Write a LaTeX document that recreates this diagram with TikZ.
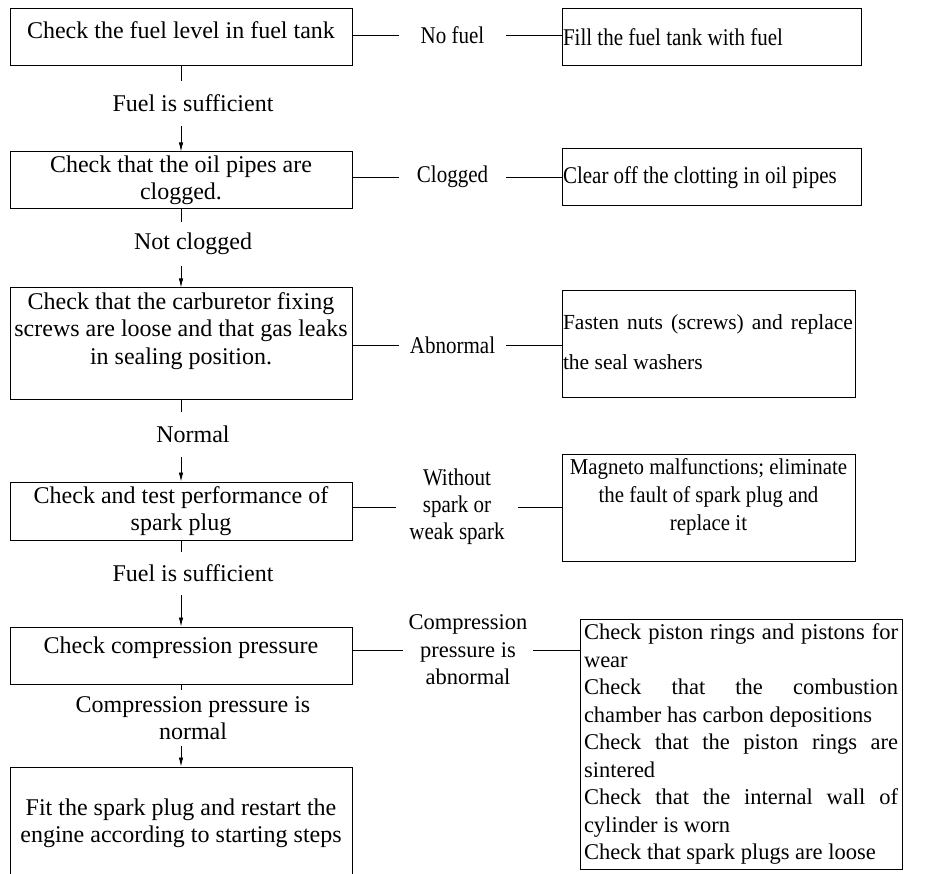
\documentclass[tikz,border=0pt]{standalone}
\usepackage{fontspec}
\setmainfont{Liberation Serif}
\newfontfamily\cnd[FakeStretch=0.875]{Liberation Serif}
\newfontfamily\cndb[FakeStretch=0.92]{Liberation Serif}
\usetikzlibrary{arrows.meta}
\newcommand{\fL}{\fontsize{24}{27.5}\selectfont}
\newcommand{\fC}{\cnd\fontsize{24}{27}\selectfont}
\begin{document}
\begin{tikzpicture}[x=1pt,y=-1pt,
  box/.style={draw,line width=1pt,inner sep=0pt},
  lab/.style={inner sep=0pt,align=center},
  conn/.style={line width=0.8pt},
  arr/.style={conn,-{Latex[length=9pt,width=4.5pt]}}]
\useasboundingbox (0,0) rectangle (936,874);
\clip (0,0) rectangle (936,874);
% left column
\node[box] (b1) at (181,37.5) {\parbox[c][57pt][c]{342pt}{\fL\centering Check the fuel level in fuel tank\par\vspace{15pt}}};
\node[box] (b2) at (181,180.5) {\parbox[c][57pt][c]{342pt}{\fL\centering Check that the oil pipes are\\clogged.\par}};
\node[box] (b3) at (181,343.5) {\parbox[c][111pt][c]{342pt}{\fL\centering Check that the carburetor fixing\\screws are loose and that gas leaks\\in sealing position.\par\vspace{25pt}}};
\node[box] (b4) at (181,511) {\parbox[c][58pt][c]{342pt}{\fL\centering Check and test performance of\\spark plug\par}};
\node[box] (b5) at (181,655.5) {\parbox[c][57pt][c]{342pt}{\fL\centering Check compression pressure\par\vspace{15pt}}};
\node[box] (b6) at (181,823.5) {\parbox[c][113pt][c]{342pt}{\fL\centering Fit the spark plug and restart the\\engine according to starting steps\par}};
% right column
\node[box] (r1) at (711.5,37.5) {\parbox[c][57pt][c]{299pt}{\fC\raggedright\hspace*{1pt}Fill the fuel tank with fuel\par}};
\node[box] (r2) at (711.5,177.5) {\parbox[c][57pt][c]{299pt}{\fC\raggedright\hspace*{1pt}Clear off the clotting in oil pipes\par}};
\node[box] (r3) at (708.5,344) {\parbox[c][106pt][c]{293pt}{\fontsize{21.5}{40}\selectfont\raggedright\hspace*{1pt}\makebox[290pt][s]{Fasten nuts (screws) and replace}\\\hspace*{1pt}the seal washers\par\vspace{4pt}}};
\node[box] (r4) at (708.5,507.5) {\parbox[c][107pt][c]{293pt}{\cndb\fontsize{22.7}{28}\selectfont\centering Magneto malfunctions; eliminate\\the fault of spark plug and\\replace it\par\vspace{21pt}}};
\node[box] (r5) at (741,744) {\parbox[c][250pt][c]{322pt}{\centering\parbox{314pt}{\fontsize{22.5}{27.5}\selectfont\raggedright
\makebox[314pt][s]{Check piston rings and pistons for}\\
wear\\
\makebox[314pt][s]{Check that the combustion}\\
chamber has carbon depositions\\
\makebox[314pt][s]{Check that the piston rings are}\\
sintered\\
\makebox[314pt][s]{Check that the internal wall of}\\
cylinder is worn\\
Check that spark plugs are loose}\par}};
% middle labels
\node[lab,minimum width=107pt,font=\fC] (l1) at (452.5,35) {No fuel};
\node[lab,minimum width=107pt,font=\fC] (l2) at (452.5,177) {Clogged};
\node[lab,minimum width=107pt,font=\fC] (l3) at (452.5,345) {Abnormal};
\node[lab,minimum width=122pt,font=\fC] (l4) at (457,507) {Without\\spark or\\weak spark};
\node[lab,minimum width=130pt,font=\fontsize{22.5}{27.5}\selectfont] (l5) at (468,650) {Compression\\pressure is\\abnormal};
% vertical labels
\node[lab,minimum height=45pt,font=\fL] (v1) at (193,103.5) {Fuel is sufficient};
\node[lab,minimum height=44pt,font=\fL] (v2) at (193,244) {Not clogged};
\node[lab,minimum height=45pt,font=\fL] (v3) at (193,434.5) {Normal};
\node[lab,minimum height=43pt,font=\fL] (v4) at (193,573.5) {Fuel is sufficient};
\node[lab,minimum height=56pt,font=\fL] (v5) at (193,718) {Compression pressure is\\normal};
% vertical connectors
\draw[conn] (b1.south) -- (b1.south |- v1.north);
\draw[arr] (b1.south |- v1.south) -- (b2.north);
\draw[conn] (b2.south) -- (b2.south |- v2.north);
\draw[arr] (b2.south |- v2.south) -- (b3.north);
\draw[conn] (b3.south) -- (b3.south |- v3.north);
\draw[arr] (b3.south |- v3.south) -- (b4.north);
\draw[conn] (b4.south) -- (b4.south |- v4.north);
\draw[arr] (b4.south |- v4.south) -- (b5.north);
\draw[conn] (b5.south) -- (b5.south |- v5.north);
\draw[arr] (b5.south |- v5.south) -- (b6.north);
% horizontal connectors
\draw[conn] (b1.east |- l1.west) -- (l1.west);
\draw[conn] (l1.east) -- (l1.east -| r1.west);
\draw[conn] (b2.east |- l2.west) -- (l2.west);
\draw[conn] (l2.east) -- (l2.east -| r2.west);
\draw[conn] (b3.east |- l3.west) -- (l3.west);
\draw[conn] (l3.east) -- (l3.east -| r3.west);
\draw[conn] (b4.east |- l4.west) -- (l4.west);
\draw[conn] (l4.east) -- (l4.east -| r4.west);
\draw[conn] (b5.east |- l5.west) -- (l5.west);
\draw[conn] (l5.east) -- (l5.east -| r5.west);
\end{tikzpicture}
\end{document}
